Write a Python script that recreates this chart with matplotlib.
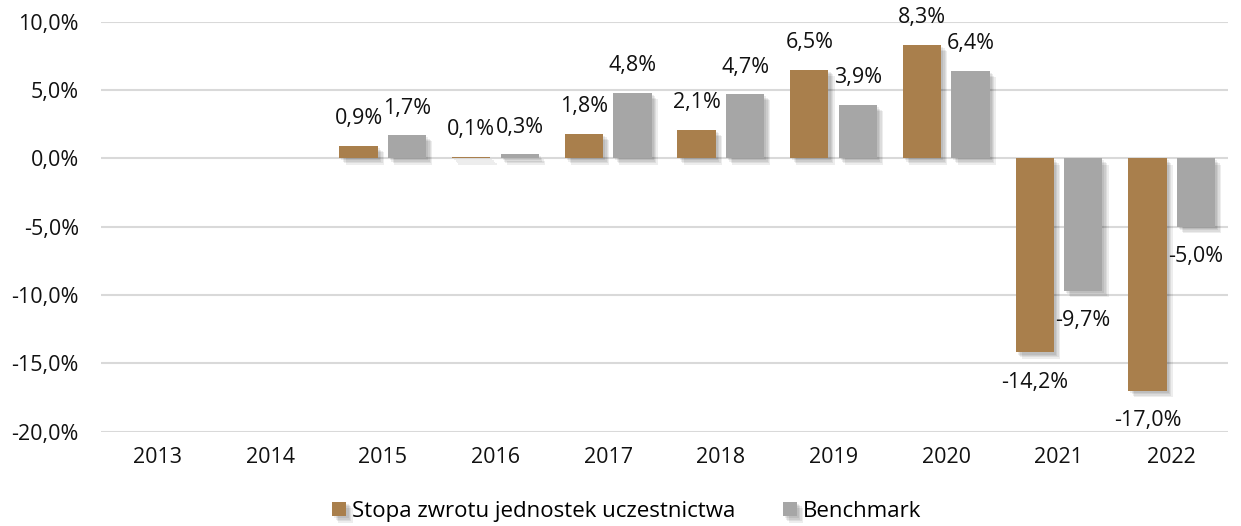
import matplotlib
matplotlib.use("Agg")
import matplotlib.pyplot as plt
import matplotlib.patheffects as pe
import numpy as np

years = ["2013", "2014", "2015", "2016", "2017", "2018", "2019", "2020", "2021", "2022"]
fund = [None, None, 0.9, 0.1, 1.8, 2.1, 6.5, 8.3, -14.2, -17.0]
bench = [None, None, 1.7, 0.3, 4.8, 4.7, 3.9, 6.4, -9.7, -5.0]
yticks = [10, 5, 0, -5, -10, -15, -20]
series_names = ["Stopa zwrotu jednostek uczestnictwa", "Benchmark"]
colors = ["#A97F4C", "#A6A6A6"]

plt.rcParams['font.family'] = ['Open Sans', 'DejaVu Sans']

fig = plt.figure(figsize=(12.41, 5.26), dpi=100)
ax = fig.add_axes([0.0814, 0.1793, 0.9081, 0.7794])

x = np.arange(len(years))
w = 0.34
off = 0.215
fs = 15.5

shadow = [pe.SimplePatchShadow(offset=(o, -o), shadow_rgbFace='black', alpha=0.07) for o in (1.5, 2.5, 3.5, 4.5)] + [pe.Normal()]

def fmt(v):
    return f"{v:.1f}%".replace(".", ",")

for vals, dx, col, name in [(fund, -off, colors[0], series_names[0]), (bench, off, colors[1], series_names[1])]:
    xs = [xi + dx for xi, v in zip(x, vals) if v is not None]
    vs = [v for v in vals if v is not None]
    bars = ax.bar(xs, vs, width=w, color=col, label=name, zorder=3)
    for b in bars:
        b.set_path_effects(shadow)
    for xi, v in zip(xs, vs):
        if v >= 0:
            ax.annotate(fmt(v), (xi, v), xytext=(0, 19.5), textcoords="offset points",
                        ha="center", va="center", fontsize=fs, color="#111111")
        else:
            ax.annotate(fmt(v), (xi, v), xytext=(0, -21.5), textcoords="offset points",
                        ha="center", va="center", fontsize=fs, color="#111111")

ax.set_xlim(-0.5, len(years) - 0.5)
ax.set_ylim(-20, 10)
ax.set_yticks(yticks)
ax.set_yticklabels([f"{t:.1f}%".replace(".", ",") for t in yticks])
ax.set_xticks(x)
ax.set_xticklabels(years)
ax.tick_params(axis="both", length=0, labelsize=fs, colors="#111111")
ax.tick_params(axis="y", pad=16)
ax.tick_params(axis="x", pad=11)
for s in ax.spines.values():
    s.set_visible(False)
ax.yaxis.grid(True, color="#D9D9D9", linewidth=1.5, zorder=0)
ax.set_axisbelow(True)

leg = fig.legend(loc="center", bbox_to_anchor=(0.505, 0.028), ncol=2, frameon=False,
                 fontsize=16, handlelength=0.65, handleheight=0.65, handletextpad=0.27,
                 columnspacing=2.1, borderpad=0, borderaxespad=0)

fig.savefig("out.png", dpi=100)
